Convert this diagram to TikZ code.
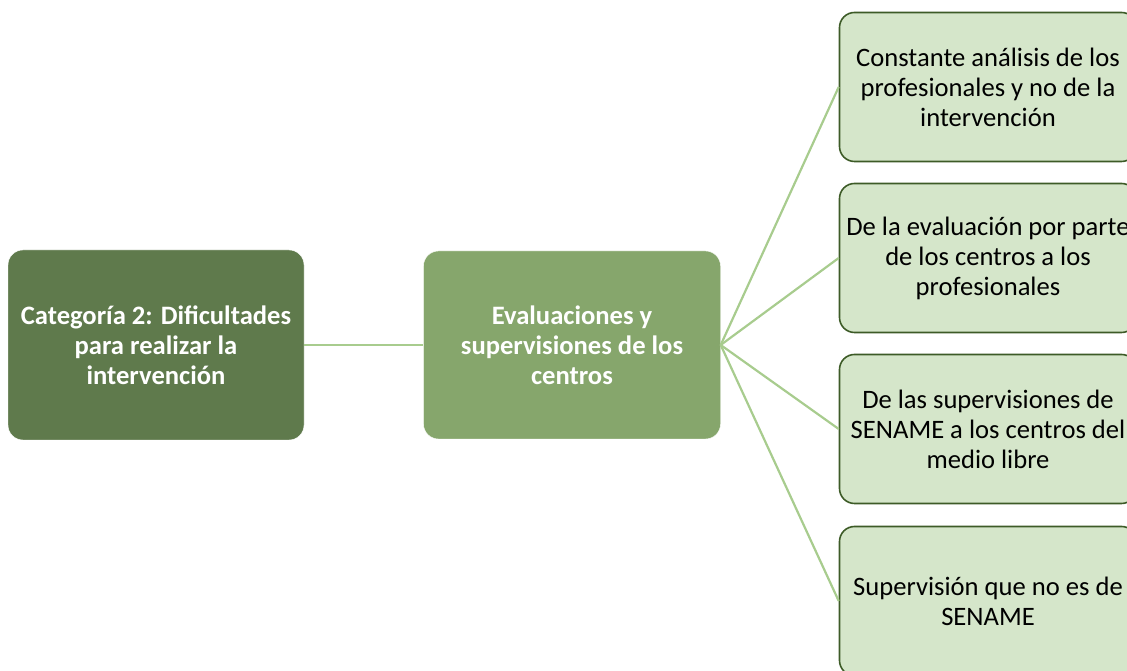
\documentclass[tikz,border=0pt]{standalone}
\usepackage{fontspec}
\setmainfont{Carlito}
\usetikzlibrary{shapes.geometric, arrows}
\definecolor{cbdark}{HTML}{5F7A4C}
\definecolor{cbmid}{HTML}{86A66C}
\definecolor{cblight}{HTML}{D5E6CA}
\definecolor{cbedge}{HTML}{3D5B27}
\definecolor{cbline}{HTML}{A8CC8E}
\tikzstyle{category} = [rectangle, rounded corners=15pt, minimum width=296pt, minimum height=190pt,
inner xsep=0pt, text width=290pt, draw=white, fill=cbdark, text=white, font=\bfseries\fontsize{26.6}{30}\selectfont]
\tikzstyle{theme} = [rectangle, rounded corners=15pt, minimum width=297pt, minimum height=188pt,
inner xsep=0pt, text width=290pt, draw=white, fill=cbmid, text=white, font=\bfseries\fontsize{26.6}{30}\selectfont]
\tikzstyle{subtheme} = [rectangle, rounded corners=15pt, minimum width=297pt, minimum height=149pt,
inner xsep=0pt, text width=294pt, draw=cbedge, line width=1.6pt, fill=cblight, text=black, font=\fontsize{26.6}{30}\selectfont]
\tikzstyle{link} = [cbline, line width=2.2pt]

\begin{document}
\begin{tikzpicture}[x=1pt, y=1pt, node distance = 416pt]
\useasboundingbox (0,0) rectangle (1127,671);
\clip (0,0) rectangle (1127,671);

% ------------------------- nodes -------------------------

% ----- node: 0
\node(0)[category, align=flush center] at (156,326) {Categoría 2: Dificultades\\para realizar la\\intervención};
% ----- node: 1
\node(1)[theme, right of=0, align=flush center] {Evaluaciones y\\supervisiones de los\\centros};
% ----- node: 2
\node(2)[subtheme, right of=1, align=flush center, yshift=258pt] {Constante análisis de los\\profesionales y no de la\\intervención};
% ----- node: 3
\node(3)[subtheme, below of=2, node distance=171pt, align=flush center] {De la evaluación por parte\\de los centros a los\\profesionales};
% ----- node: 4
\node(4)[subtheme, below of=3, node distance=171pt, align=flush center] {De las supervisiones de\\SENAME a los centros del\\medio libre};
% ----- node: 5
\node(5)[subtheme, below of=4, node distance=172pt, align=flush center] {Supervisión que no es de\\SENAME};

% ------------------------- links -------------------------

\draw[link] (0) -- (1);
\draw[link] (1.east) -- (2.west);
\draw[link] (1.east) -- (3.west);
\draw[link] (1.east) -- (4.west);
\draw[link] (1.east) -- (5.west);

\end{tikzpicture}
\end{document}
